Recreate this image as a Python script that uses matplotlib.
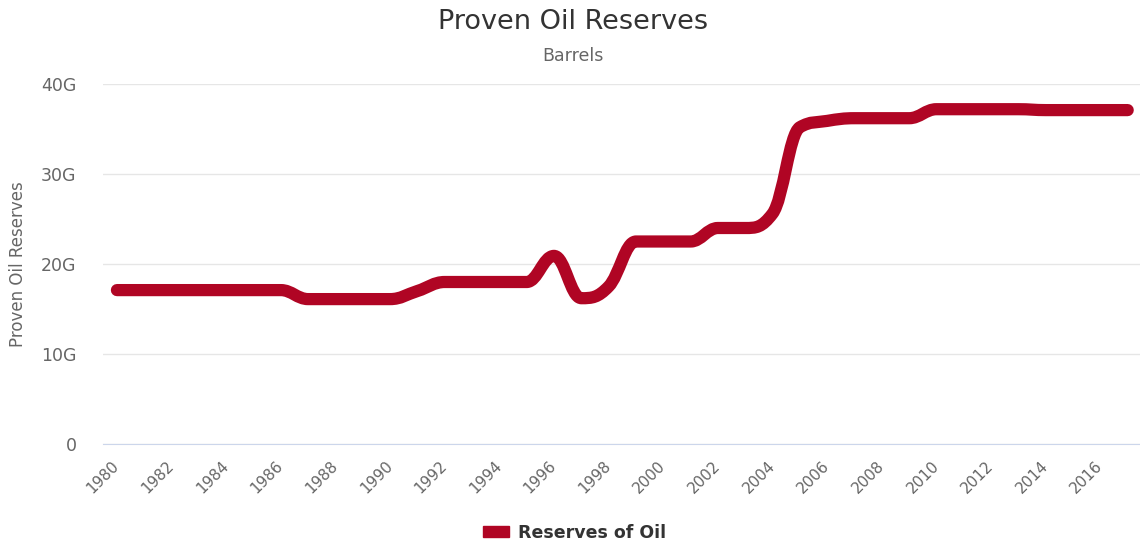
import numpy as np
import matplotlib.pyplot as plt
import matplotlib.transforms as mtransforms
from matplotlib.path import Path
from matplotlib.patches import PathPatch, Patch
from matplotlib.ticker import FuncFormatter

# proven oil reserves, billions of barrels
years = list(range(1980, 2018))
reserves = [17.1, 17.1, 17.1, 17.1, 17.1, 17.1, 17.1, 16.1, 16.1, 16.1,
            16.1, 17.0, 18.0, 18.0, 18.0, 18.0, 20.9, 16.2, 17.5, 22.5,
            22.5, 22.5, 24.0, 24.0, 25.6, 35.2, 35.9, 36.2, 36.2, 36.2,
            37.2, 37.2, 37.2, 37.2, 37.1, 37.1, 37.1, 37.1]
xtick_years = list(range(1980, 2017, 2))

red = '#b00524'


def spline_path(xs, ys, smoothing=1.5):
    # bezier path like a highcharts "spline" series
    n = len(xs)
    left = [(xs[0], ys[0])] * n
    right = [(xs[0], ys[0])] * n
    for i in range(n):
        x, y = xs[i], ys[i]
        if i == 0 or i == n - 1:
            left[i] = right[i] = (x, y)
            continue
        lx, ly = xs[i - 1], ys[i - 1]
        nx, ny = xs[i + 1], ys[i + 1]
        d = smoothing + 1
        lcx = (smoothing * x + lx) / d
        lcy = (smoothing * y + ly) / d
        rcx = (smoothing * x + nx) / d
        rcy = (smoothing * y + ny) / d
        if rcx != lcx:
            corr = (rcy - lcy) * (rcx - x) / (rcx - lcx) + y - rcy
            lcy += corr
            rcy += corr
            if lcy > ly and lcy > y:
                lcy = max(ly, y)
                rcy = 2 * y - lcy
            elif lcy < ly and lcy < y:
                lcy = min(ly, y)
                rcy = 2 * y - lcy
            if rcy > ny and rcy > y:
                rcy = max(ny, y)
                lcy = 2 * y - rcy
            elif rcy < ny and rcy < y:
                rcy = min(ny, y)
                lcy = 2 * y - rcy
        left[i] = (lcx, lcy)
        right[i] = (rcx, rcy)
    verts = [(xs[0], ys[0])]
    codes = [Path.MOVETO]
    for i in range(1, n):
        verts += [right[i - 1], left[i], (xs[i], ys[i])]
        codes += [Path.CURVE4] * 3
    return Path(verts, codes)


fig = plt.figure(figsize=(11.4, 5.44), dpi=100)
ax = fig.add_axes([103 / 1140, 100 / 544, 1 - 103 / 1140, 360 / 544])

ax.add_patch(PathPatch(spline_path(years, reserves), fill=False, edgecolor=red,
                       linewidth=8.8, capstyle='round', joinstyle='round'))

ax.set_xlim(1979.49, 2017.45)
ax.set_ylim(0, 40)
ax.set_yticks([0, 10, 20, 30, 40])
ax.yaxis.set_major_formatter(FuncFormatter(lambda v, p: '0' if v == 0 else '%dG' % v))
ax.set_xticks(xtick_years)
ax.set_xticklabels([str(y) for y in xtick_years], rotation=45, ha='right',
                   va='center', rotation_mode='anchor')

ax.grid(axis='y', color='#e6e6e6', linewidth=1)
ax.set_axisbelow(True)
for s in ['top', 'right', 'left']:
    ax.spines[s].set_visible(False)
ax.spines['bottom'].set_color('#ccd6eb')
ax.tick_params(axis='y', length=0, pad=19, labelsize=12.5, labelcolor='#666666')
ax.tick_params(axis='x', length=0, pad=14, labelsize=11, labelcolor='#666666')

# y label pinned near the left edge of the figure
ax.set_ylabel('Proven Oil Reserves', fontsize=12, color='#666666', va='center')
label_tr = mtransforms.blended_transform_factory(fig.transFigure, ax.transAxes)
ax.yaxis.set_label_coords(18 / 1140, 0.5, transform=label_tr)

fig.text(0.503, 1 - 22 / 544, 'Proven Oil Reserves', ha='center', va='center',
         fontsize=19.5, color='#333333')
fig.text(0.503, 1 - 56 / 544, 'Barrels', ha='center', va='center',
         fontsize=12.5, color='#666666')

fig.legend(handles=[Patch(color=red, label='Reserves of Oil')],
           loc='center', bbox_to_anchor=(0.504, 11 / 544), frameon=False,
           prop={'size': 12.5, 'weight': 'bold'}, labelcolor='#333333',
           handlelength=1.5, handleheight=0.6, handletextpad=0.5)

fig.savefig('out.png', dpi=100)
